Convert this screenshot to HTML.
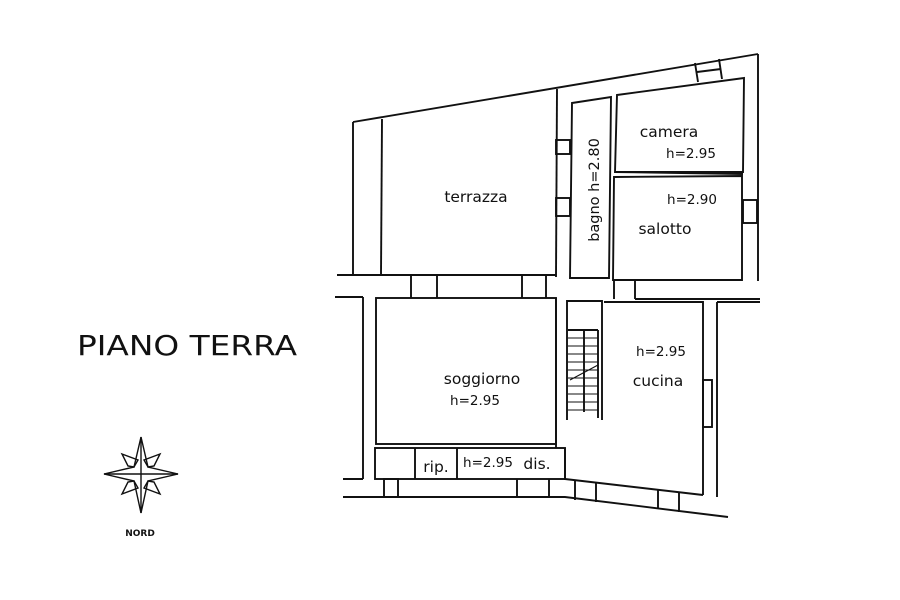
<!DOCTYPE html>
<html><head><style>
body{margin:0;background:#fff;}
svg{display:block;}
text{font-family:"DejaVu Sans","Liberation Sans",sans-serif;fill:#111;}
</style></head><body>
<svg width="900" height="600" viewBox="0 0 900 600" xmlns="http://www.w3.org/2000/svg">
<g fill="none" stroke="#111" stroke-width="1.9">
<line x1="353" y1="122" x2="758" y2="54"/>
<line x1="353" y1="122" x2="353" y2="275"/>
<line x1="382" y1="119" x2="381" y2="275"/>
<line x1="758" y1="54" x2="758" y2="281"/>
<line x1="557" y1="89" x2="556" y2="277"/>
<line x1="337" y1="275" x2="556" y2="275"/>
<polygon points="572,103 611,97 609,278 570,278"/>
<rect x="556" y="140" width="14" height="14"/>
<rect x="556" y="198" width="14" height="18"/>
<polygon points="617,95 744,78 743,172 615,172"/>
<line x1="615" y1="172" x2="743" y2="174"/>
<polygon points="614,177 742,176 742,280 613,280"/>
<rect x="743" y="200" width="14" height="23"/>
<line x1="695" y1="63" x2="698" y2="82"/>
<line x1="719" y1="59" x2="722" y2="79"/>
<line x1="697" y1="72" x2="721" y2="69"/>
<line x1="411" y1="275" x2="411" y2="298"/>
<line x1="437" y1="275" x2="437" y2="298"/>
<line x1="522" y1="275" x2="522" y2="298"/>
<line x1="546" y1="275" x2="546" y2="298"/>
<line x1="614" y1="280" x2="614" y2="299"/>
<line x1="635" y1="280" x2="635" y2="299"/>
<line x1="635" y1="299" x2="760" y2="299"/>
<line x1="335" y1="297" x2="363" y2="297"/>
<line x1="363" y1="297" x2="363" y2="479"/>
<line x1="343" y1="479" x2="363" y2="479"/>
<rect x="376" y="298" width="180" height="146"/>
<line x1="556" y1="298" x2="556" y2="448"/>
<line x1="567" y1="300" x2="567" y2="420"/>
<line x1="602" y1="300" x2="602" y2="420"/>
<line x1="567" y1="301" x2="602" y2="301"/>
<line x1="565" y1="448" x2="565" y2="480"/>
<line x1="568" y1="330" x2="598" y2="330"/>
<line x1="598" y1="330" x2="598" y2="418"/>
<line x1="584" y1="330" x2="584" y2="412"/>
<g stroke-width="1.1">
<line x1="568" y1="338" x2="598" y2="338"/><line x1="568" y1="346" x2="598" y2="346"/>
<line x1="568" y1="354" x2="598" y2="354"/><line x1="568" y1="362" x2="598" y2="362"/>
<line x1="568" y1="370" x2="598" y2="370"/><line x1="568" y1="378" x2="598" y2="378"/>
<line x1="568" y1="386" x2="598" y2="386"/><line x1="568" y1="394" x2="598" y2="394"/>
<line x1="568" y1="402" x2="598" y2="402"/><line x1="568" y1="410" x2="598" y2="410"/>
<line x1="570" y1="380" x2="598" y2="365"/>
</g>
<polyline points="604,302 703,302 703,495"/>
<rect x="703" y="380" width="9" height="47"/>
<line x1="717" y1="302" x2="760" y2="302"/>
<line x1="717" y1="302" x2="717" y2="497"/>
<rect x="375" y="448" width="190" height="31"/>
<line x1="415" y1="448" x2="415" y2="479"/>
<line x1="457" y1="448" x2="457" y2="479"/>
<polyline points="343,497 565,497 728,517"/>
<line x1="565" y1="479" x2="703" y2="495"/>
<rect x="384" y="479" width="14" height="18"/>
<line x1="517" y1="479" x2="517" y2="497"/>
<line x1="549" y1="479" x2="549" y2="497"/>
<line x1="575" y1="481" x2="575" y2="500"/>
<line x1="596" y1="483" x2="596" y2="502"/>
<line x1="658" y1="490" x2="658" y2="509"/>
<line x1="679" y1="493" x2="679" y2="512"/>
</g>
<g fill="none" stroke="#111" stroke-width="1.4">
<polygon points="141,437 148,467 178,474 148,481 141,513 134,481 104,474 134,467"/>
<line x1="141" y1="437" x2="141" y2="513"/><line x1="104" y1="474" x2="178" y2="474"/>
<polygon points="122,454 138,460 134,467 128,466"/>
<polygon points="160,454 144,460 148,467 154,466"/>
<polygon points="122,494 138,488 134,481 128,482"/>
<polygon points="160,494 144,488 148,481 154,482"/>
</g>
<text x="77" y="355" font-size="28" font-family="Liberation Sans" textLength="220" lengthAdjust="spacingAndGlyphs">PIANO TERRA</text>
<text x="140" y="536" font-size="9" font-weight="bold" text-anchor="middle" font-family="Liberation Sans">NORD</text>
<g font-size="15.5">
<text x="476" y="202" text-anchor="middle">terrazza</text>
<text x="669" y="137" text-anchor="middle">camera</text>
<text x="691" y="158" text-anchor="middle" font-size="13.5">h=2.95</text>
<text x="692" y="204" text-anchor="middle" font-size="13.5">h=2.90</text>
<text x="665" y="234" text-anchor="middle">salotto</text>
<text transform="translate(599,190) rotate(-90)" text-anchor="middle" font-size="14.5">bagno  h=2.80</text>
<text x="482" y="384" text-anchor="middle">soggiorno</text>
<text x="475" y="405" text-anchor="middle" font-size="13.5">h=2.95</text>
<text x="658" y="386" text-anchor="middle">cucina</text>
<text x="661" y="356" text-anchor="middle" font-size="13.5">h=2.95</text>
<text x="436" y="472" text-anchor="middle">rip.</text>
<text x="488" y="467" text-anchor="middle" font-size="13.5">h=2.95</text>
<text x="537" y="469" text-anchor="middle">dis.</text>
</g>
</svg>
</body></html>
